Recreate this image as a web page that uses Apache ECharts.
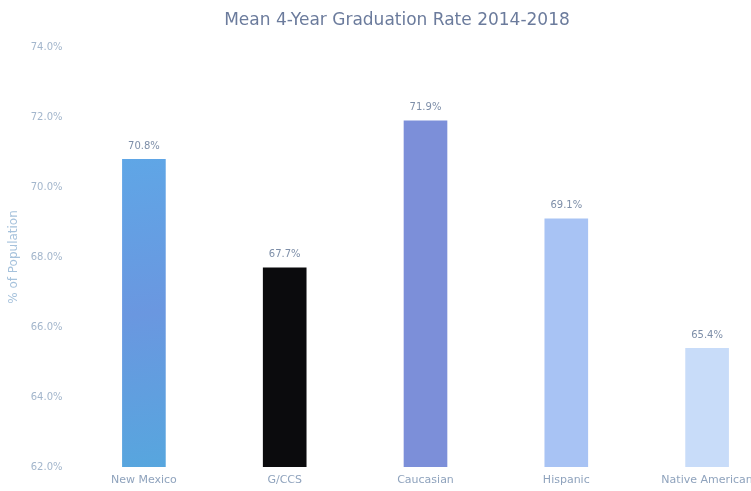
<!DOCTYPE html>
<html>
<head>
<meta charset="utf-8">
<script src="https://cdn.jsdelivr.net/npm/echarts@6/dist/echarts.min.js"></script>
<style>
  html, body { margin: 0; padding: 0; background: #ffffff; overflow: hidden; }
  #chart { width: 751px; height: 491px; }
</style>
</head>
<body>
<div id="chart"></div>
<script>
// Mean 4-year graduation rate by group, 2014-2018
const categories = ['New Mexico', 'G/CCS', 'Caucasian', 'Hispanic', 'Native American'];
const rates = [70.8, 67.7, 71.9, 69.1, 65.4];
const barColors = ['#5b9fe2', '#0b0b0d', '#7c8fd9', '#a8c3f4', '#c8dcf9'];
const yTicks = { min: 62, max: 74, interval: 2 };

const chart = echarts.init(document.getElementById('chart'));

const seriesData = rates.map((v, i) => ({
  value: v,
  itemStyle: {
    color: i === 0
      ? new echarts.graphic.LinearGradient(0, 0, 1, 1, [
          { offset: 0, color: '#5fa6e6' },
          { offset: 0.5, color: '#6a97e0' },
          { offset: 1, color: '#57a6de' }
        ])
      : barColors[i]
  }
}));

chart.setOption({
  animation: false,
  backgroundColor: '#ffffff',
  textStyle: { fontFamily: 'DejaVu Sans' },
  title: {
    text: 'Mean 4-Year Graduation Rate 2014-2018',
    left: 392,
    textAlign: 'center',
    top: 7,
    textStyle: { color: '#6b7b9c', fontSize: 17, fontWeight: 'normal', fontFamily: 'DejaVu Sans' }
  },
  // the plot area runs past the right edge, so the last label is cut off
  grid: {
    left: 73.5,
    right: -26.5,
    top: 47,
    bottom: 24,
    containLabel: false,
    outerBoundsMode: 'none'
  },
  xAxis: {
    type: 'category',
    data: categories,
    axisLine: { show: false },
    axisTick: { show: false },
    axisLabel: { color: '#8fa3bd', fontSize: 11, margin: 8, fontFamily: 'DejaVu Sans' }
  },
  yAxis: {
    type: 'value',
    min: yTicks.min,
    max: yTicks.max,
    interval: yTicks.interval,
    name: '% of Population',
    nameLocation: 'middle',
    nameGap: 46,
    nameTextStyle: { color: '#a6c2dc', fontSize: 12, fontFamily: 'DejaVu Sans' },
    axisLine: { show: false },
    axisTick: { show: false },
    splitLine: { show: false },
    axisLabel: {
      color: '#a3b6cc',
      fontSize: 10,
      margin: 11,
      formatter: v => v.toFixed(1) + '%'
    }
  },
  series: [{
    type: 'bar',
    data: seriesData,
    barWidth: '31%',
    label: {
      show: true,
      position: 'top',
      distance: 8,
      color: '#7d8ea8',
      fontSize: 10,
      formatter: p => p.value.toFixed(1) + '%'
    }
  }]
});
</script>
</body>
</html>
